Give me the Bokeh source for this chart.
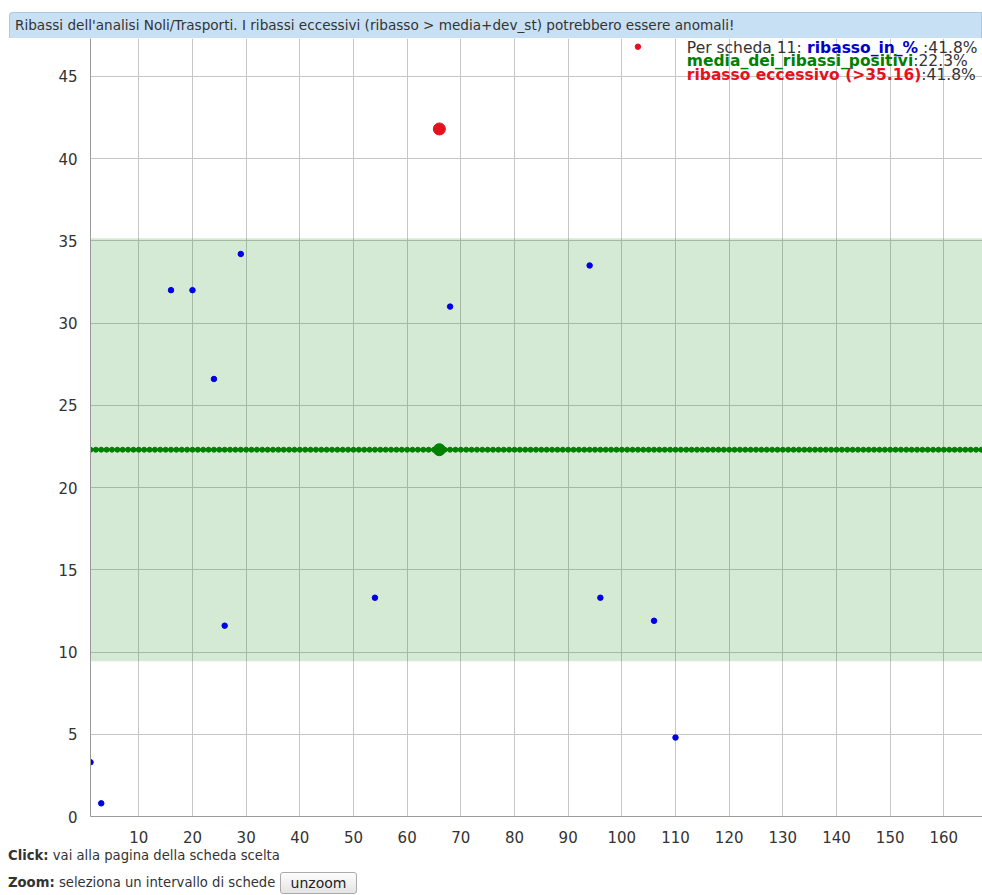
from bokeh.plotting import figure
from bokeh.models import Range1d, FixedTicker, BoxAnnotation, Label, Div
from bokeh.layouts import column
from bokeh.embed import file_html
from bokeh.resources import INLINE

# ---------------- data ----------------
n_schede = 167
schede_ribasso = [1, 3, 16, 20, 24, 26, 29, 54, 68, 94, 96, 106, 110]
ribasso_in_perc = [3.3, 0.8, 32.0, 32.0, 26.6, 11.6, 34.2, 13.3, 31.0, 33.5, 13.3, 11.9, 4.8]
schede_eccessivi = [66, 103]
ribasso_eccessivo = [41.8, 46.8]
media_ribassi = 22.3
soglia_eccessivo = 35.16
scheda_evidenziata = 66
x_ticks = [10, 20, 30, 40, 50, 60, 70, 80, 90, 100, 110, 120, 130, 140, 150, 160]
y_ticks = [0, 5, 10, 15, 20, 25, 30, 35, 40, 45]

dev_st = soglia_eccessivo - media_ribassi
schede_media = list(range(1, n_schede + 1))
media_vals = [media_ribassi] * n_schede

FONT = "DejaVu Sans"
GREEN = "#008000"
BLUE = "#0000e6"
RED = "#e8101c"
X_END = 167.2
Y_END = 47.3

title_div = Div(
    text=(
        '<div style="margin-top:12px;margin-left:9px;height:26px;box-sizing:border-box;'
        'background:#c8e0f4;border:1px solid #a9c8e2;border-bottom:none;'
        'border-radius:4px 0 0 0;font-family:\'DejaVu Sans\';font-size:13.6px;'
        'line-height:25px;padding-left:5px;color:#333;white-space:nowrap;overflow:hidden;width:973px;">'
        "Ribassi dell'analisi Noli/Trasporti. I ribassi eccessivi (ribasso &gt; media+dev_st) "
        "potrebbero essere anomali!</div>"
    ),
    width=982, height=38, margin=0,
)

p = figure(
    width=982, height=808,
    x_range=Range1d(1, X_END), y_range=Range1d(0, Y_END),
    output_backend="svg", toolbar_location=None,
    min_border_left=90, min_border_right=0, min_border_top=0, min_border_bottom=30,
)
p.outline_line_color = None
p.background_fill_color = "white"

p.xaxis.ticker = FixedTicker(ticks=x_ticks)
p.yaxis.ticker = FixedTicker(ticks=y_ticks)
for ax in (p.xaxis[0], p.yaxis[0]):
    ax.axis_line_color = "#9a9a9a"
    ax.major_tick_line_color = None
    ax.minor_tick_line_color = None
    ax.major_label_text_font = FONT
    ax.major_label_text_font_size = "15px"
    ax.major_label_text_color = "#333333"
p.yaxis.major_label_standoff = 7
p.xaxis.major_label_standoff = 8

p.xgrid.grid_line_color = "#c6c6c6"
p.ygrid.grid_line_color = "#c6c6c6"

band = BoxAnnotation(bottom=media_ribassi - dev_st, top=media_ribassi + dev_st,
                     fill_color=GREEN, fill_alpha=0.165, line_alpha=0, level="underlay")
p.add_layout(band)

# media line (beaded)
p.line(schede_media, media_vals, color=GREEN, line_width=2.5)
p.scatter(schede_media, media_vals, size=5, color=GREEN)

# ribasso points
p.scatter(schede_ribasso, ribasso_in_perc, size=5.5, color=BLUE)

# eccessivi
small_x = [x for x in schede_eccessivi if x != scheda_evidenziata]
small_y = [y for x, y in zip(schede_eccessivi, ribasso_eccessivo) if x != scheda_evidenziata]
p.scatter(small_x, small_y, size=5.5, color=RED)

hi_idx = schede_eccessivi.index(scheda_evidenziata)
val_hi = ribasso_eccessivo[hi_idx]
p.scatter([scheda_evidenziata], [val_hi], size=12, color=RED)
p.scatter([scheda_evidenziata], [media_ribassi], size=12, color=GREEN)

# ---------------- legend (top-right) ----------------
REG = {' ': .318, ':': .337, '.': .318, '%': .950, 'P': .603, 'e': .615, 'r': .411,
       's': .521, 'c': .550, 'h': .634, 'd': .635, 'a': .613}
for d in "0123456789":
    REG[d] = .636
BOLD = {'r': .493, 'i': .343, 'b': .716, 'a': .675, 's': .595, 'o': .687,
        '_': .5, 'n': .712, '%': 1.002, 'e': .678, 'c': .593, 'v': .652, ' ': .348,
        '(': .457, ')': .457, '>': .838, '.': .380, 'm': 1.042, 'd': .716, 'p': .716, 't': .478}
for d in "0123456789":
    BOLD[d] = .696
FS = 15.5


def w(text, table):
    shown = " ".join(text.split(" ")).replace("  ", " ")
    return sum(table.get(c, .6) for c in shown.strip()) * FS


lines = [
    [("Per scheda 11: ", "#333333", "normal", REG, 0), ("ribasso_in_%", "#0000cc", "bold", BOLD, REG[' '] * FS),
     (f":{val_hi}%", "#333333", "normal", REG, REG[' '] * FS)],
    [("media_dei_ribassi_positivi", GREEN, "bold", BOLD, 0), (f":{media_ribassi}%", "#333333", "normal", REG, 0)],
    [(f"ribasso  eccessivo (>{soglia_eccessivo})", RED, "bold", BOLD, 0), (f":{val_hi}%", "#333333", "normal", REG, 0)],
]
line1_w = sum(w(t, tb) + g for t, _, _, tb, g in lines[0])
LEFT = -5 - line1_w
y_offs = [-9, -22.5, -36]
for segs, yo in zip(lines, y_offs):
    xo = LEFT
    for text, col, style, table, gap in segs:
        xo += gap
        p.add_layout(Label(x=X_END, y=Y_END, x_offset=xo, y_offset=yo, text=text.strip(),
                           text_align="left", text_baseline="middle",
                           text_font=FONT, text_font_size=f"{FS}px",
                           text_font_style=style, text_color=col))
        xo += w(text, table)

bottom_div = Div(
    text=(
        '<div style="font-family:\'DejaVu Sans\';font-size:13.2px;color:#333;padding-left:8px;">'
        '<div style="margin-top:2px;height:16px;line-height:16px;white-space:nowrap;"><b>Click:</b> vai alla pagina della scheda scelta</div>'
        '<div style="margin-top:8px;height:22px;line-height:22px;white-space:nowrap;"><b>Zoom:</b> seleziona un intervallo di schede '
        '<button style="height:22px;padding:0 10px;font-family:\'DejaVu Sans\';font-size:14px;color:#222;'
        'background:linear-gradient(#fdfdfd,#e4e4e4);border:1px solid #aaa;border-radius:3px;vertical-align:top;">unzoom</button></div>'
        '</div>'
    ),
    width=982, height=48, margin=0,
)

layout = column(title_div, p, bottom_div, spacing=0)
open("out.html", "w").write(file_html(layout, INLINE))
